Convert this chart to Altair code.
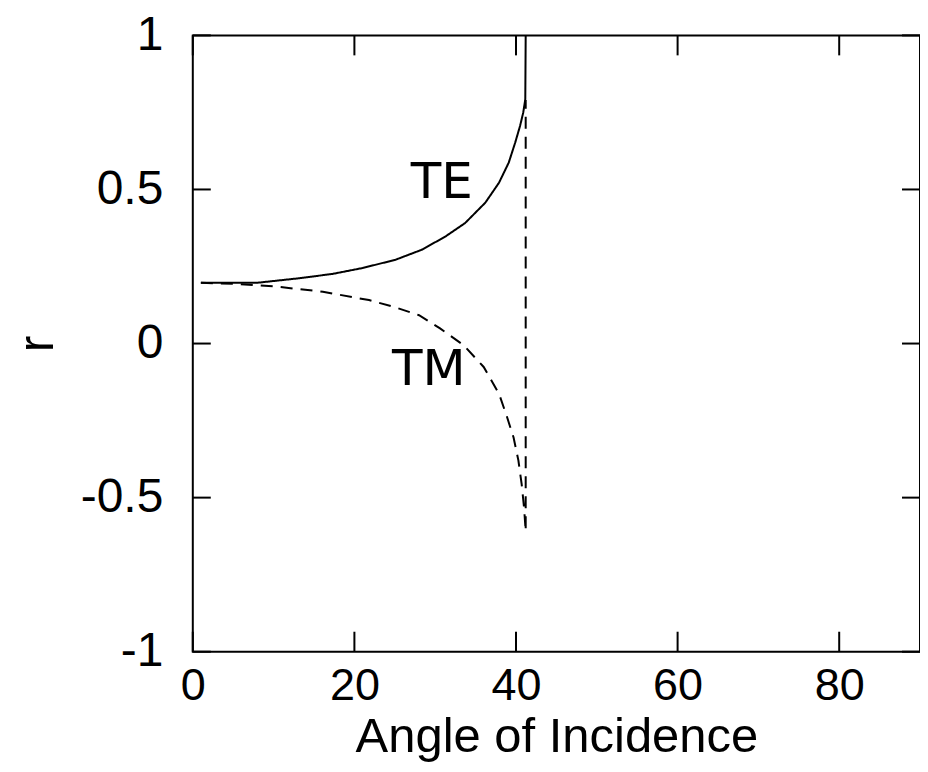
import altair as alt
import pandas as pd

# ---- data ----
te_angle = [1, 7.9, 13.2, 17.3, 21.0, 25.1, 28.4, 31.3, 33.7, 36.2, 37.9, 39.1, 39.9, 40.5, 40.9, 41.15, 41.2]
te_r = [0.197, 0.197, 0.212, 0.226, 0.245, 0.272, 0.305, 0.348, 0.391, 0.457, 0.522, 0.587, 0.652, 0.706, 0.75, 0.793, 1.0]

tm_angle = [1, 5, 10.3, 16.1, 21.8, 25, 28.0, 30.6, 33.5, 36.0, 37.9, 38.9, 39.7, 40.3, 40.7, 41.0, 41.2, 41.2]
tm_r = [0.197, 0.194, 0.185, 0.168, 0.141, 0.118, 0.092, 0.049, -0.005, -0.076, -0.163, -0.239, -0.305, -0.38, -0.456, -0.533, -0.609, 0.79]

x_ticks = [0, 20, 40, 60, 80]
y_ticks = [-1, -0.5, 0, 0.5, 1]

label_text = ["TE", "TM"]
label_angle = [30.8, 29.2]
label_r = [0.52, -0.087]

W, H = 728, 617

rows = []
for i, (a, r) in enumerate(zip(te_angle, te_r)):
    rows.append({"angle": a, "r": r, "series": "TE", "idx": i})
for i, (a, r) in enumerate(zip(tm_angle, tm_r)):
    rows.append({"angle": a, "r": r, "series": "TM", "idx": i})
df = pd.DataFrame(rows)

xs = alt.Scale(domain=[0, 90], nice=False, zero=False)
ys = alt.Scale(domain=[-1, 1], nice=False, zero=False)

FONT = "Liberation Sans"

x_axis = alt.Axis(values=x_ticks, ticks=False, domain=False, grid=False,
                  labelFontSize=45, labelFont=FONT, labelColor="black",
                  labelPadding=12, labelFlush=False, labelOverlap=False,
                  title="Angle of Incidence", titleFontSize=49, titleFont=FONT,
                  titleFontWeight="normal", titleColor="black", titlePadding=4)
y_axis = alt.Axis(values=y_ticks, ticks=False, domain=False, grid=False,
                  labelFontSize=48, labelFont=FONT, labelColor="black",
                  labelPadding=30, labelFlush=False, labelOverlap=False,
                  labelExpr="'' + datum.value",
                  title="r", titleFontSize=50, titleFont=FONT,
                  titleFontWeight="normal", titleColor="black",
                  titleX=-140, titleY=H / 2, titleBaseline="alphabetic", titleAngle=270)

lines = alt.Chart(df).mark_line(color="black", strokeWidth=2).encode(
    x=alt.X("angle:Q", scale=xs, axis=x_axis),
    y=alt.Y("r:Q", scale=ys, axis=y_axis),
    detail="series:N",
    order="idx:Q",
    strokeDash=alt.StrokeDash("series:N",
                              scale=alt.Scale(domain=["TE", "TM"], range=[[1, 0], [12, 8]]),
                              legend=None),
)

xt = pd.DataFrame({"v": x_ticks})
yt = pd.DataFrame({"v": y_ticks})

bottom_ticks = alt.Chart(xt).mark_rule(color="black", strokeWidth=2).encode(
    x=alt.X("v:Q", scale=xs), y=alt.value(H), y2=alt.value(H - 20))
top_ticks = alt.Chart(xt).mark_rule(color="black", strokeWidth=2).encode(
    x=alt.X("v:Q", scale=xs), y=alt.value(0), y2=alt.value(20))
left_ticks = alt.Chart(yt).mark_rule(color="black", strokeWidth=2).encode(
    y=alt.Y("v:Q", scale=ys), x=alt.value(0), x2=alt.value(18))
right_ticks = alt.Chart(yt).mark_rule(color="black", strokeWidth=2).encode(
    y=alt.Y("v:Q", scale=ys), x=alt.value(W), x2=alt.value(W - 18))

ldf = pd.DataFrame({"t": label_text, "a": label_angle, "r": label_r})
labels = alt.Chart(ldf).mark_text(font="DejaVu Sans", fontSize=50, color="black",
                                  align="center", baseline="middle").encode(
    x=alt.X("a:Q", scale=xs), y=alt.Y("r:Q", scale=ys), text="t:N")

chart = alt.layer(lines, bottom_ticks, top_ticks, left_ticks, right_ticks, labels).properties(
    width=W, height=H,
    autosize=alt.AutoSizeParams(type="none"),
    padding={"left": 185, "top": 27, "right": 0, "bottom": 110},
    background="white",
).configure_view(stroke="black", strokeWidth=2)

chart.save("out.html", embed_options={"renderer": "svg", "actions": False})
